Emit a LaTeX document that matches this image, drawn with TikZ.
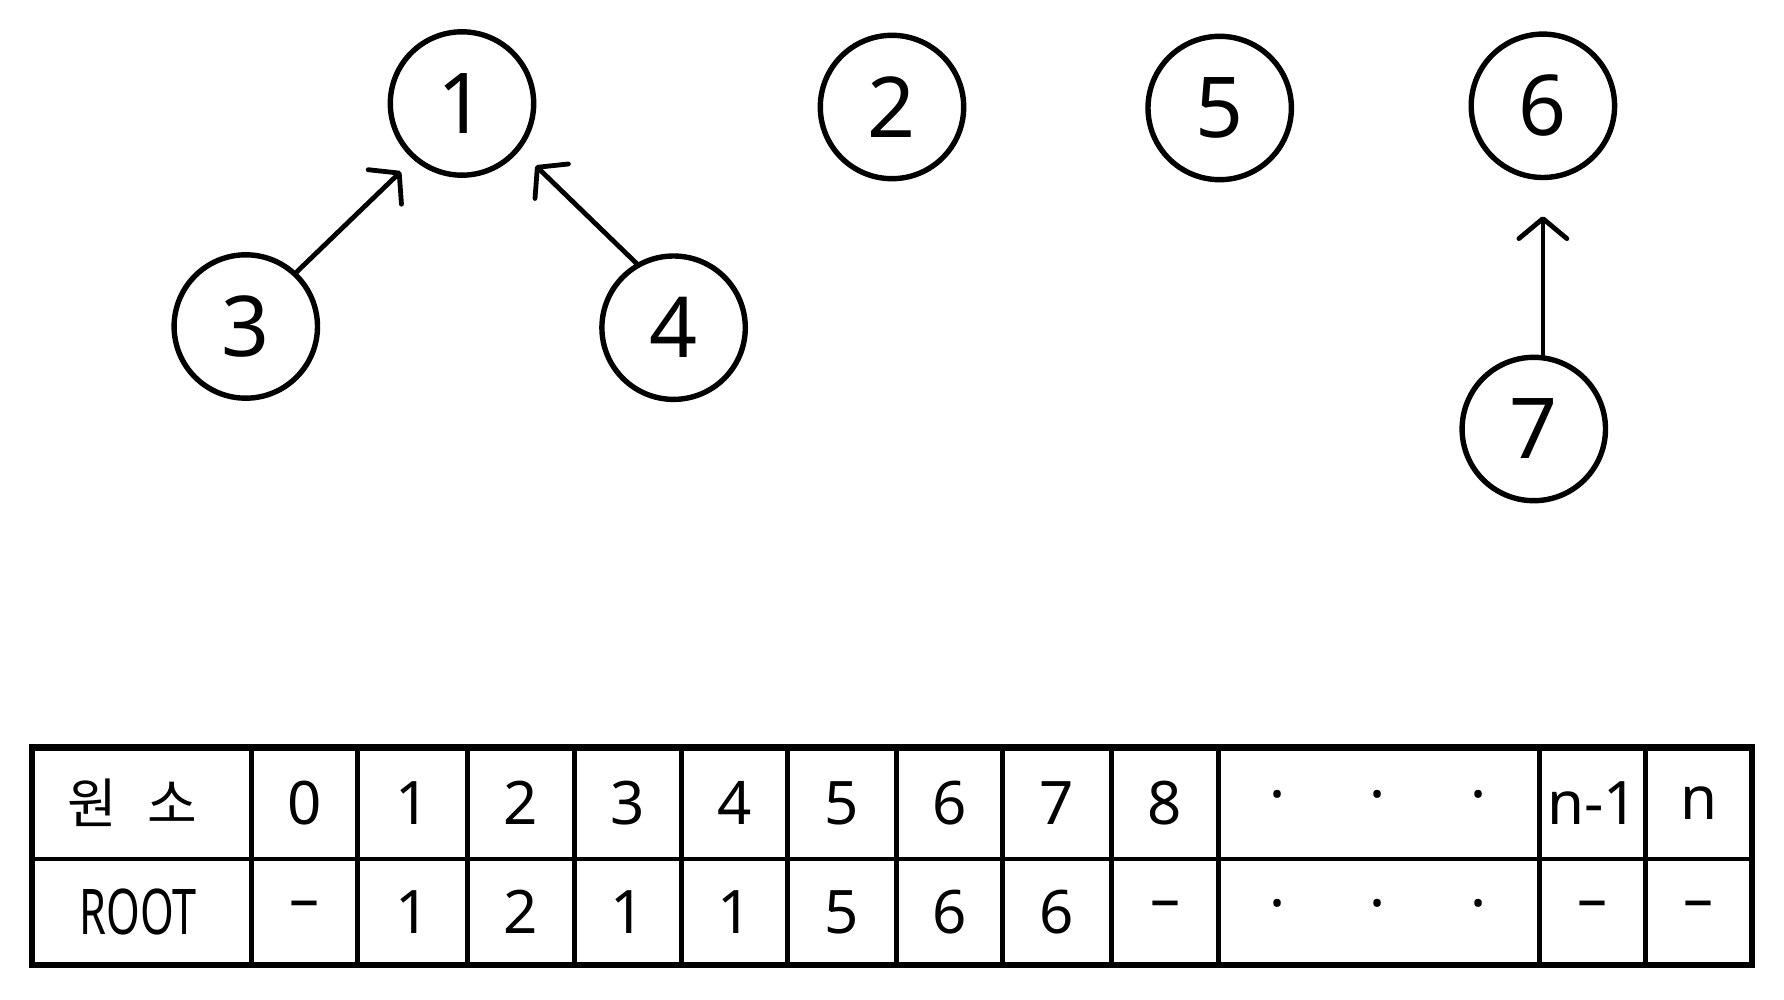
\documentclass[tikz,border=0pt]{standalone}
\usepackage{fontspec}
\setmainfont{Noto Sans}
\newfontfamily\kr{Noto Sans CJK KR}
\usetikzlibrary{arrows.meta}
\begin{document}
\begin{tikzpicture}[x=0.5pt,y=-0.5pt,
  vtx/.style={circle, draw, line width=2.7pt, minimum size=71.7pt, inner sep=0pt, font=\fontsize{42}{42}\selectfont},
  arr/.style={line width=2.4pt, line cap=round, -{Straight Barb[length=10pt,width=24pt,line width=2.4pt,round]}},
  cell/.style={font=\fontsize{30}{30}\selectfont, inner sep=0pt},
  gridline/.style={line width=2.2pt},
  outerline/.style={line width=3.2pt}]
\useasboundingbox (0,0) rectangle (1784,1000);
% nodes
\node[vtx] (c1) at (462,103.5) {1};
\node[vtx] (c2) at (892,107) {2};
\node[vtx] (c5) at (1219.7,108) {5};
\node[vtx] (c6) at (1542.9,105.8) {6};
\node[vtx] (c3) at (245.8,326.5) {3};
\node[vtx] (c4) at (673.6,327.7) {4};
\node[vtx] (c7) at (1533.8,429) {7};
% connectors
\draw[arr, shorten >=8.5pt] (c3.47) -- (c1.229);
\draw[arr, shorten >=11pt] (c4.120) -- (c1.-39);
\draw[arr, shorten >=18pt] (c6.south |- c7.north) -- (c6.south);
% table
\foreach \x in {251.4,357.3,467.6,574.6,681.5,787.4,896.6,1002.4,1111.6,1218.6,1539.4,1645.3}
  \draw[gridline] (\x,747.5) -- (\x,965);
\draw[gridline] (31.9,859) -- (1752.2,859);
\draw[outerline] (31.9,747.5) rectangle (1752.2,965);
% row 1
\node[cell,font=\kr\fontsize{27}{27}\selectfont] (h0) at (132,803) {원 \hspace{9pt}소};
\node[cell] (h1) at (304.35,803) {0};
\node[cell] (h2) at (412.45,803) {1};
\node[cell] (h3) at (521.1,803) {2};
\node[cell] (h4) at (628.05,803) {3};
\node[cell] (h5) at (734.45,803) {4};
\node[cell] (h6) at (842,803) {5};
\node[cell] (h7) at (949.5,803) {6};
\node[cell] (h8) at (1057,803) {7};
\node[cell] (h9) at (1165.1,803) {8};
\node[cell] (h10) at (1378,803) {·\hspace{42pt}·\hspace{42pt}·};
\node[cell] (h11) at (1592.35,803) {n-1};
\node[cell] (h12) at (1698.75,803) {n};
% row 2
\node[cell] (r0) at (138,912) {\scalebox{0.72}[1.05]{ROOT}};
\node[cell] (r1) at (304.35,910) {–};
\node[cell] (r2) at (412.45,912) {1};
\node[cell] (r3) at (521.1,912) {2};
\node[cell] (r4) at (628.05,912) {1};
\node[cell] (r5) at (734.45,912) {1};
\node[cell] (r6) at (842,912) {5};
\node[cell] (r7) at (949.5,912) {6};
\node[cell] (r8) at (1057,912) {6};
\node[cell] (r9) at (1165.1,910) {–};
\node[cell] (r10) at (1378,912) {·\hspace{42pt}·\hspace{42pt}·};
\node[cell] (r11) at (1592.35,910) {–};
\node[cell] (r12) at (1698.75,910) {–};
\end{tikzpicture}
\end{document}
